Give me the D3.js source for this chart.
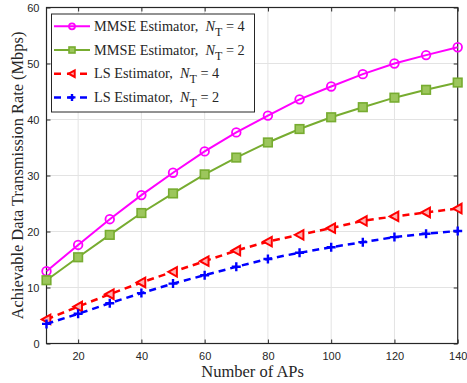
<!DOCTYPE html>
<html>
<head>
<meta charset="utf-8">
<script src="https://cdn.jsdelivr.net/npm/d3@7"></script>
<style>
  html, body { margin: 0; padding: 0; background: #fff; }
  svg { display: block; }
  .serif { font-family: "Liberation Serif", "Times New Roman", Times, serif; }
  .sans { font-family: "Liberation Sans", Arial, Helvetica, sans-serif; }
</style>
</head>
<body>
<svg id="chart" width="467" height="383"></svg>
<script>
// Number of access points on the x axis
const aps = [10, 20, 30, 40, 50, 60, 70, 80, 90, 100, 110, 120, 130, 140];

// Achievable rate (Mbps) per estimator / antenna count
const mmseNT4 = [12.9, 17.6, 22.2, 26.5, 30.5, 34.3, 37.7, 40.7, 43.6, 45.9, 48.1, 50.0, 51.5, 52.9];
const mmseNT2 = [11.3, 15.4, 19.4, 23.3, 26.8, 30.2, 33.2, 35.9, 38.3, 40.4, 42.2, 43.9, 45.3, 46.6];
const lsNT4   = [4.3, 6.6, 8.8, 10.9, 12.8, 14.7, 16.6, 18.2, 19.4, 20.6, 21.9, 22.7, 23.4, 24.1];
const lsNT2   = [3.5, 5.3, 7.2, 9.0, 10.7, 12.2, 13.7, 15.1, 16.2, 17.2, 18.1, 19.0, 19.6, 20.1];

const xTicks = [20, 40, 60, 80, 100, 120, 140];
const yTicks = [0, 10, 20, 30, 40, 50, 60];

const seriesNames = ["MMSE Estimator,", "MMSE Estimator,", "LS Estimator,", "LS Estimator,"];
const seriesNT = ["4", "2", "4", "2"];

const series = [
  { name: seriesNames[0], nt: seriesNT[0], values: mmseNT4, color: "#ff00ff", dash: null, marker: "circle", width: 2 },
  { name: seriesNames[1], nt: seriesNT[1], values: mmseNT2, color: "#77ac30", dash: null, marker: "square", width: 2 },
  { name: seriesNames[2], nt: seriesNT[2], values: lsNT4, color: "#ff0000", dash: "7,5", marker: "triangle", width: 2.5 },
  { name: seriesNames[3], nt: seriesNT[3], values: lsNT2, color: "#0000ff", dash: "7,5", marker: "plus", width: 2.5 }
];

const svg = d3.select("#chart");
const plotL = 46.5, plotR = 457.7, plotT = 7.5, plotB = 343.5;

const x = d3.scaleLinear().domain([10, 140]).range([plotL, plotR]);
const y = d3.scaleLinear().domain([0, 60]).range([plotB, plotT]);

// grid
const grid = svg.append("g");
grid.selectAll("line.gx").data(xTicks.filter(d => d < 140)).enter().append("line")
  .attr("x1", d => x(d)).attr("x2", d => x(d)).attr("y1", plotT).attr("y2", plotB)
  .attr("stroke", "#e3e3e3").attr("stroke-width", 1);
grid.selectAll("line.gy").data(yTicks.filter(d => d > 0 && d < 60)).enter().append("line")
  .attr("x1", plotL).attr("x2", plotR).attr("y1", d => y(d)).attr("y2", d => y(d))
  .attr("stroke", "#e3e3e3").attr("stroke-width", 1);

// axes
const xAxis = d3.axisBottom(x).tickValues(xTicks).tickSizeInner(-4).tickSizeOuter(0).tickPadding(9);
const yAxis = d3.axisLeft(y).tickValues(yTicks).tickSizeInner(-4).tickSizeOuter(0).tickPadding(7);
const gx = svg.append("g").attr("transform", `translate(0,${plotB})`).call(xAxis);
const gy = svg.append("g").attr("transform", `translate(${plotL},0)`).call(yAxis);
[gx, gy].forEach(g => {
  g.attr("font-family", null).attr("font-size", null);
  g.select(".domain").remove();
  g.selectAll(".tick line").attr("stroke", "#262626");
  g.selectAll("text").attr("class", "sans").style("font-size", "11px").attr("fill", "#262626");
});
// top and right ticks
const gt = svg.append("g").attr("transform", `translate(0,${plotT})`)
  .call(d3.axisTop(x).tickValues(xTicks).tickSizeInner(-4).tickSizeOuter(0).tickFormat(""));
const gr = svg.append("g").attr("transform", `translate(${plotR},0)`)
  .call(d3.axisRight(y).tickValues(yTicks).tickSizeInner(-4).tickSizeOuter(0).tickFormat(""));
[gt, gr].forEach(g => { g.select(".domain").remove(); g.selectAll(".tick line").attr("stroke", "#262626"); });

svg.append("rect").attr("x", plotL).attr("y", plotT).attr("width", plotR - plotL).attr("height", plotB - plotT)
  .attr("fill", "none").attr("stroke", "#262626").attr("stroke-width", 1.2);

// axis titles
svg.append("text").attr("class", "serif").attr("x", (plotL + plotR) / 2 + 0.5).attr("y", 377).attr("text-anchor", "middle")
  .style("font-size", "16.5px").attr("fill", "#262626").text("Number of APs");
svg.append("text").attr("class", "serif").attr("transform", `translate(23,${(plotT + plotB) / 2}) rotate(-90)`)
  .attr("text-anchor", "middle").style("font-size", "16.4px").attr("fill", "#262626")
  .text("Achievable Data Transmission Rate (Mbps)");

// markers
function drawMarker(g, type, cx, cy, color, s) {
  if (type === "circle") {
    g.append("circle").attr("cx", cx).attr("cy", cy).attr("r", s)
      .attr("fill", "none").attr("stroke", color).attr("stroke-width", 1.8);
  } else if (type === "square") {
    g.append("rect").attr("x", cx - s).attr("y", cy - s).attr("width", 2 * s).attr("height", 2 * s)
      .attr("fill", "#9cc65c").attr("stroke", color).attr("stroke-width", 1.6);
  } else if (type === "triangle") {
    const pts = [[cx - s * 1.1, cy], [cx + s * 0.9, cy - s * 1.1], [cx + s * 0.9, cy + s * 1.1]];
    g.append("polygon").attr("points", pts.map(p => p.join(",")).join(" "))
      .attr("fill", "#ffb0b0").attr("stroke", color).attr("stroke-width", 2).attr("stroke-linejoin", "miter");
  } else if (type === "plus") {
    g.append("path").attr("d", `M${cx - s},${cy}H${cx + s}M${cx},${cy - s}V${cy + s}`)
      .attr("stroke", color).attr("stroke-width", 2.4).attr("fill", "none");
  }
}

const line = d3.line().x((d, i) => x(aps[i])).y(d => y(d));
series.forEach(s => {
  const g = svg.append("g");
  g.append("path").datum(s.values).attr("d", line)
    .attr("fill", "none").attr("stroke", s.color).attr("stroke-width", s.width)
    .attr("stroke-dasharray", s.dash);
  s.values.forEach((v, i) => drawMarker(g, s.marker, x(aps[i]), y(v), s.color, s.marker === "plus" ? 4.5 : 4.3));
});

// legend
const lg = svg.append("g");
lg.append("rect").attr("x", 51.5).attr("y", 14).attr("width", 203).attr("height", 98)
  .attr("fill", "#fff").attr("stroke", "#262626").attr("stroke-width", 1);
series.forEach((s, i) => {
  const cy = 26.3 + i * 23.7;
  lg.append("line").attr("x1", 54).attr("x2", 90).attr("y1", cy).attr("y2", cy)
    .attr("stroke", s.color).attr("stroke-width", s.width).attr("stroke-dasharray", s.dash ? "7,6" : null);
  drawMarker(lg, s.marker, 72, cy, s.color, s.marker === "plus" ? 3.5 : 3);
  const t = lg.append("text").attr("class", "serif").attr("x", 94).attr("y", cy + 4.5)
    .style("font-size", "14.3px").attr("fill", "#262626");
  t.append("tspan").text(s.name + "\u00a0 ");
  t.append("tspan").style("font-style", "italic").text("N");
  t.append("tspan").attr("dy", 5).style("font-size", "12px").text("T");
  t.append("tspan").attr("dy", -5).text("\u00a0= " + s.nt);
});
</script>
</body>
</html>
